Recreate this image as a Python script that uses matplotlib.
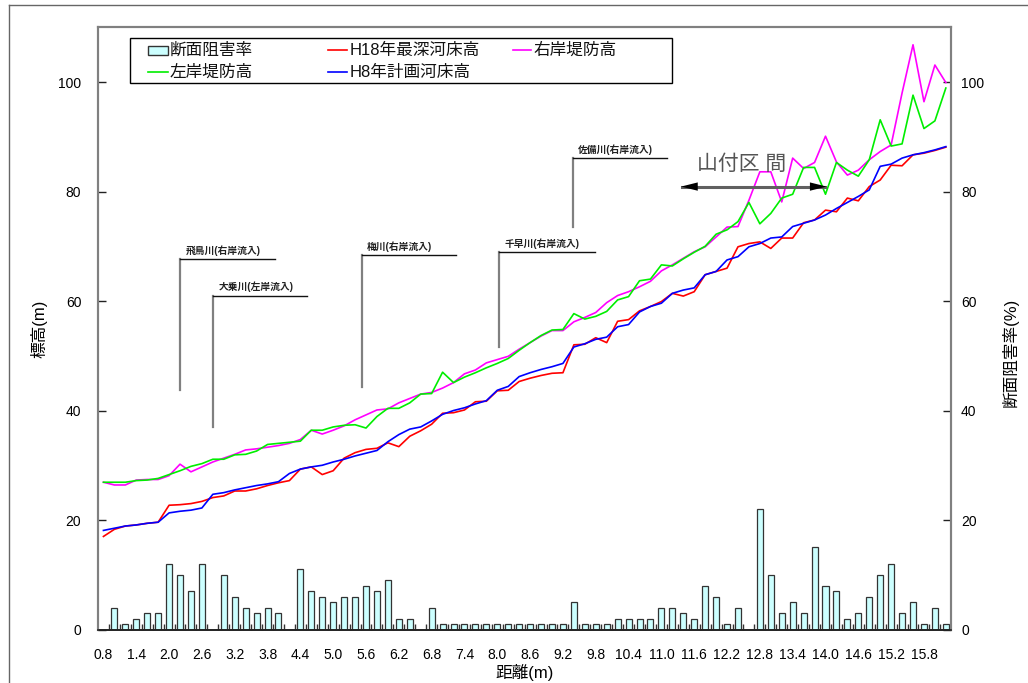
import matplotlib.pyplot as plt
from matplotlib.patches import Rectangle
from matplotlib.lines import Line2D

plt.rcParams['font.family'] = ['Liberation Sans', 'Noto Sans CJK JP']

# 距離標 (km 表記だが軸は m)
distance = [0.8, 1.0, 1.2, 1.4, 1.6, 1.8, 2.0, 2.2, 2.4, 2.6, 2.8, 3.0, 3.2, 3.4,
            3.6, 3.8, 4.0, 4.2, 4.4, 4.6, 4.8, 5.0, 5.2, 5.4, 5.6, 5.8, 6.0, 6.2,
            6.4, 6.6, 6.8, 7.0, 7.2, 7.4, 7.6, 7.8, 8.0, 8.2, 8.4, 8.6, 8.8, 9.0,
            9.2, 9.4, 9.6, 9.8, 10.0, 10.2, 10.4, 10.6, 10.8, 11.0, 11.2, 11.4,
            11.6, 11.8, 12.0, 12.2, 12.4, 12.6, 12.8, 13.0, 13.2, 13.4, 13.6, 13.8,
            14.0, 14.2, 14.4, 14.6, 14.8, 15.0, 15.2, 15.4, 15.6, 15.8, 16.0, 16.2]

# 断面阻害率(%)
blockage = [0, 4, 1, 2, 3, 3, 12, 10, 7, 12, 0, 10, 6, 4, 3, 4, 3, 0, 11, 7,
            6, 5, 6, 6, 8, 7, 9, 2, 2, 0, 4, 1, 1, 1, 1, 1, 1, 1, 1, 1,
            1, 1, 1, 5, 1, 1, 1, 2, 2, 2, 2, 4, 4, 3, 2, 8, 6, 1, 4, 0,
            22, 10, 3, 5, 3, 15, 8, 7, 2, 3, 6, 10, 12, 3, 5, 1, 4, 1]

# H18年最深河床高
bed_h18 = [17.0, 18.3, 18.9, 19.1, 19.4, 19.6, 22.7, 22.8, 23.0, 23.4,
           24.1, 24.4, 25.3, 25.3, 25.7, 26.3, 26.8, 27.2, 29.3, 29.7,
           28.3, 29.0, 31.3, 32.3, 32.9, 33.1, 34.1, 33.4, 35.3, 36.3,
           37.5, 39.5, 39.6, 40.1, 41.6, 41.7, 43.6, 43.7, 45.3, 45.9,
           46.4, 46.8, 46.9, 52.0, 52.1, 53.3, 52.4, 56.3, 56.6, 58.2,
           59.0, 59.9, 61.4, 60.9, 61.7, 64.8, 65.4, 66.0, 69.9, 70.5,
           70.8, 69.6, 71.5, 71.5, 74.3, 74.8, 76.6, 76.3, 78.8, 78.3,
           80.9, 82.1, 84.8, 84.7, 86.7, 87.0, 87.5, 88.1]

# H8年計画河床高
bed_h8 = [18.1, 18.5, 18.9, 19.1, 19.4, 19.6, 21.3, 21.6, 21.8, 22.2,
          24.7, 25.0, 25.5, 25.9, 26.3, 26.6, 27.0, 28.5, 29.3, 29.7,
          30.0, 30.6, 31.1, 31.7, 32.2, 32.7, 34.3, 35.6, 36.6, 37.0,
          38.1, 39.3, 40.0, 40.5, 41.2, 41.8, 43.7, 44.4, 46.2, 46.9,
          47.5, 48.0, 48.6, 51.6, 52.2, 53.0, 53.4, 55.3, 55.7, 58.0,
          59.0, 59.6, 61.4, 62.0, 62.4, 64.8, 65.4, 67.5, 68.1, 69.9,
          70.5, 71.5, 71.7, 73.6, 74.2, 74.8, 75.7, 76.9, 78.0, 79.1,
          80.3, 84.6, 85.0, 86.1, 86.7, 87.1, 87.6, 88.2]

# 右岸堤防高
bank_right = [26.9, 26.4, 26.4, 27.3, 27.4, 27.4, 28.1, 30.2, 28.8, 29.7,
              30.6, 31.3, 32.0, 32.8, 33.0, 33.3, 33.6, 34.0, 34.7, 36.4,
              35.7, 36.4, 37.2, 38.3, 39.2, 40.1, 40.3, 41.4, 42.2, 43.0,
              43.3, 44.1, 45.1, 46.7, 47.4, 48.7, 49.3, 49.9, 51.2, 52.4,
              53.6, 54.6, 54.6, 56.2, 57.0, 57.9, 59.7, 61.0, 61.7, 62.6,
              63.6, 65.5, 66.6, 67.8, 69.0, 69.9, 71.7, 73.5, 73.6, 78.4,
              83.6, 83.6, 78.1, 86.1, 84.2, 85.3, 90.1, 85.4, 83.0, 83.9,
              85.8, 87.3, 88.5, 98.0, 106.8, 96.4, 103.1, 99.9]

# 左岸堤防高
bank_left = [26.9, 26.9, 26.9, 27.2, 27.3, 27.6, 28.3, 29.0, 29.8, 30.3,
             31.1, 31.1, 31.9, 32.0, 32.6, 33.8, 34.0, 34.2, 34.4, 36.4,
             36.4, 37.0, 37.3, 37.4, 36.8, 38.9, 40.4, 40.4, 41.4, 43.0,
             43.1, 47.0, 45.1, 46.1, 46.9, 47.8, 48.6, 49.5, 51.0, 52.4,
             53.7, 54.7, 54.8, 57.7, 56.7, 57.2, 58.1, 60.2, 60.8, 63.7,
             64.0, 66.6, 66.4, 67.7, 68.9, 70.0, 72.2, 73.0, 74.5, 78.0,
             74.1, 76.0, 78.8, 79.5, 84.4, 84.4, 79.5, 85.3, 83.9, 82.8,
             85.8, 93.1, 88.3, 88.7, 97.6, 91.5, 92.9, 98.9]

# 支川合流点の引出し線: (名称, 位置, 線下端, 線上端, 横線右端)
tributaries = [
    ('飛鳥川(右岸流入)', 7.0, 43.7, 67.7, 15.7),
    ('大乗川(左岸流入)', 10.0, 36.9, 61.0, 18.6),
    ('梅川(右岸流入)', 23.6, 44.3, 68.4, 32.2),
    ('千早川(右岸流入)', 36.2, 51.6, 68.9, 44.9),
    ('佐備川(右岸流入)', 42.9, 73.5, 86.1, 51.5),
]

idx = list(range(len(distance)))

fig = plt.figure(figsize=(10.28, 6.83), dpi=100)
ax = fig.add_axes([0.0953, 0.0783, 0.8301, 0.8818])
ax2 = ax.twinx()

# 棒グラフは右軸
ax2.bar(idx, blockage, width=0.55, color='#ccffff', edgecolor='#333333',
        linewidth=0.9, zorder=2)

ax.plot(idx, bed_h18, color='#ff0000', lw=1.2, zorder=3)
ax.plot(idx, bed_h8, color='#0000ff', lw=1.2, zorder=4)
ax.plot(idx, bank_right, color='#ff00ff', lw=1.2, zorder=3)
ax.plot(idx, bank_left, color='#00ee00', lw=1.2, zorder=4)

ax.set_zorder(ax2.get_zorder() + 1)
ax.patch.set_visible(False)

for a in (ax, ax2):
    a.set_xlim(-0.5, len(distance) - 0.5)
    a.set_ylim(0, 110)
    a.set_yticks(range(0, 101, 20))
    for s in a.spines.values():
        s.set_color('#808080')
        s.set_linewidth(1.5)
    a.spines['bottom'].set_color('#222222')
    a.spines['bottom'].set_linewidth(1.2)

ax.tick_params(axis='y', direction='in', length=6, width=1, color='#222222',
               labelsize=10, pad=12)
ax2.tick_params(axis='y', direction='in', length=6, width=1, color='#222222',
                labelsize=10, pad=7)

ax.set_xticks(idx[::3])
ax.set_xticklabels([f'{d:.1f}' for d in distance[::3]])
ax.set_xticks([i + 0.5 for i in idx[:-1]], minor=True)
ax.tick_params(axis='x', which='major', length=0, labelsize=10, pad=13)
ax.tick_params(axis='x', which='minor', direction='in', length=4, width=1,
               color='#333333')

ax.set_xlabel('距離(m)', fontsize=12, labelpad=2)
ax.set_ylabel('標高(m)', fontsize=12, labelpad=8)
ax2.set_ylabel('断面阻害率(%)', fontsize=12)
ax2.yaxis.set_label_coords(1.059, 0.46)

# 支川の引出し線
for name, x0, y0, y1, x1 in tributaries:
    ax.plot([x0, x0], [y0, y1], color='#808080', lw=1.6, zorder=2)
    ax.plot([x0, x1], [y1, y1], color='#111111', lw=1.0, zorder=2)
    ax.text(x0 + 0.5, y1 + 0.6, name, fontsize=7, fontweight='bold',
            ha='left', va='bottom', color='#222222')

# 山付区間: 灰色の軸線に黒い矢じり
ax.text(58.3, 85.0, '山付区 間', fontsize=15, color='#555555',
        ha='center', va='center')
ax.plot([52.9, 66.0], [80.9, 80.9], color='#606060', lw=2.2, zorder=5)
ax.annotate('', xy=(52.8, 80.9), xytext=(66.1, 80.9),
            arrowprops=dict(arrowstyle='<|-|>,head_length=1.2,head_width=0.3',
                            color='black', lw=0, mutation_scale=10,
                            shrinkA=0, shrinkB=0), zorder=6)

# 凡例 (3列等幅)
W, H = 1028.0, 683.0


def fx(px):
    return px / W


def fy(py):
    return 1 - py / H


fig.add_artist(Rectangle((fx(130), fy(82.5)), fx(672) - fx(130), fy(38) - fy(82.5),
                         facecolor='white', edgecolor='black', lw=1,
                         transform=fig.transFigure, zorder=10))
fig.add_artist(Rectangle((fx(148), fy(55)), fx(168) - fx(148), fy(46) - fy(55),
                         facecolor='#ccffff', edgecolor='#333333', lw=1,
                         transform=fig.transFigure, zorder=11))
legend_lines = [
    (148, 168, 72, '#00ee00'),
    (328, 347, 50, '#ff0000'),
    (328, 347, 72, '#0000ff'),
    (513, 531, 50, '#ff00ff'),
]
for xa, xb, yy, c in legend_lines:
    fig.add_artist(Line2D([fx(xa), fx(xb)], [fy(yy), fy(yy)], color=c, lw=1.2,
                          transform=fig.transFigure, zorder=11))
legend_texts = [
    (170, 50, '断面阻害率'),
    (170, 72, '左岸堤防高'),
    (350, 50, 'H18年最深河床高'),
    (350, 72, 'H8年計画河床高'),
    (534, 50, '右岸堤防高'),
]
for xx, yy, t in legend_texts:
    fig.text(fx(xx), fy(yy), t, fontsize=12, ha='left', va='center',
             color='#111111', zorder=12)

# 外枠
fig.add_artist(Line2D([fx(9), fx(1028)], [fy(5), fy(5)], color='#666666', lw=1,
                      transform=fig.transFigure))
fig.add_artist(Line2D([fx(9), fx(9)], [fy(5), fy(683)], color='#666666', lw=1,
                      transform=fig.transFigure))

fig.savefig('out.png', dpi=100)
